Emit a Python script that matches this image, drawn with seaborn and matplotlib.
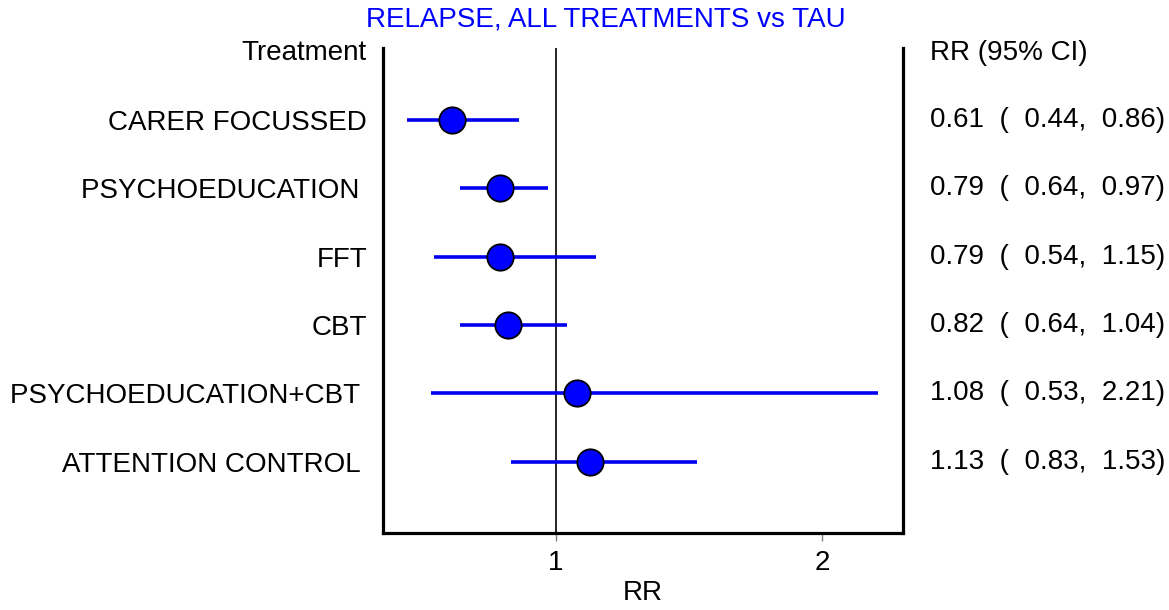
import matplotlib
matplotlib.use("Agg")
import matplotlib.pyplot as plt
import matplotlib.transforms as mtrans
import seaborn as sns
import pandas as pd

treatments = ["CARER FOCUSSED", "PSYCHOEDUCATION ", "FFT", "CBT",
              "PSYCHOEDUCATION+CBT ", "ATTENTION CONTROL "]
rr = [0.61, 0.79, 0.79, 0.82, 1.08, 1.13]
lower = [0.44, 0.64, 0.54, 0.64, 0.53, 0.83]
upper = [0.86, 0.97, 1.15, 1.04, 2.21, 1.53]
x_ticks = [1, 2]

sns.set_theme(style="white")
plt.rcParams['font.family'] = ['Liberation Sans', 'DejaVu Sans']
plt.rcParams['text.color'] = 'black'
plt.rcParams['axes.labelcolor'] = 'black'
plt.rcParams['xtick.color'] = 'black'
plt.rcParams['ytick.color'] = 'black'

FS = 20

df = pd.DataFrame({"treatment": treatments, "rr": rr, "lo": lower, "hi": upper})
df["pos"] = range(1, len(df) + 1)

fig = plt.figure(figsize=(11.69, 6.10), dpi=100)
ax = fig.add_axes([383/1169, 1 - 533/610, (903-383)/1169, (533-48)/610])

ax.axvline(1, color="black", lw=1.2, zorder=1)
ax.hlines(df["pos"], df["lo"], df["hi"], color="#0000EE", lw=2.6, zorder=2)
sns.scatterplot(data=df, x="rr", y="pos", ax=ax, s=360, color="#0000FF",
                edgecolor="black", linewidth=1.3, zorder=3, legend=False)

ax.set_xlim(0.35, 2.305)
ax.set_ylim(7.04, -0.05)
ax.set_xticks(x_ticks)
ax.set_xticklabels([str(t) for t in x_ticks], fontsize=FS)
ax.set_yticks(df["pos"])
ax.set_yticklabels(df["treatment"], fontsize=FS)
ax.tick_params(axis="y", length=0, pad=11.5)
ax.tick_params(axis="x", length=6, width=1, color="grey", direction="out", pad=6, bottom=True)
ax.set_xlabel("RR", fontsize=FS, labelpad=3)
ax.set_ylabel("")

for side in ["left", "right", "bottom"]:
    ax.spines[side].set_visible(True)
    ax.spines[side].set_color("black")
    ax.spines[side].set_linewidth(2.3)
ax.spines["top"].set_visible(False)

trans = mtrans.blended_transform_factory(fig.transFigure, ax.transData)
for p, r, l, h in zip(df["pos"], rr, lower, upper):
    ax.text(930/1169, p, f"{r:.2f}  (  {l:.2f},  {h:.2f})", transform=trans,
            fontsize=FS, va="center", ha="left", clip_on=False)

fig.text(367/1169, 1 - 53/610, "Treatment", fontsize=FS, ha="right", va="center")
fig.text(930/1169, 1 - 53/610, "RR (95% CI)", fontsize=FS, ha="left", va="center")
fig.text(606/1169, 1 - 20/610, "RELAPSE, ALL TREATMENTS vs TAU", fontsize=FS,
         ha="center", va="center", color="#0000FF")

fig.savefig("out.png", dpi=100)
